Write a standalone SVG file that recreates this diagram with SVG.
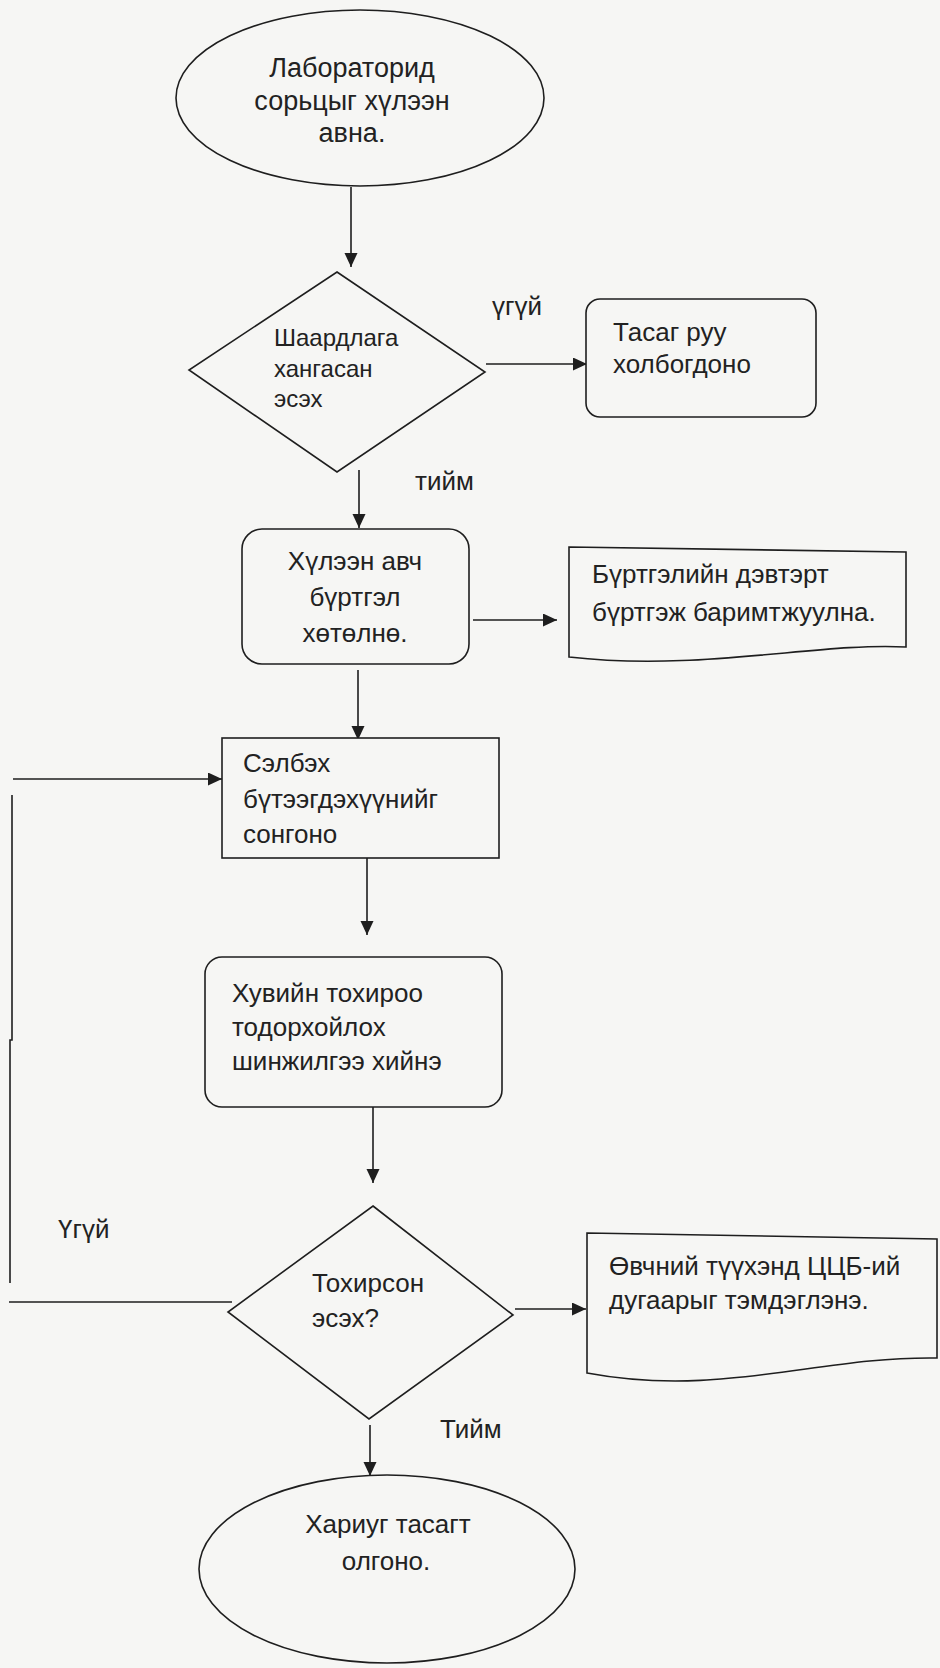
<svg xmlns="http://www.w3.org/2000/svg" width="940" height="1668" viewBox="0 0 940 1668">
<defs>
<style>
.s{fill:none;stroke:#1e1e1e;stroke-width:1.6}
.n{fill:#f6f6f4;stroke:#1e1e1e;stroke-width:1.6}
.t{font-family:"Liberation Sans",Arial,sans-serif;font-size:26px;fill:#222}
.c{text-anchor:middle}
.d{font-size:24px}
.e{font-size:27px}
</style>
<marker id="ah" markerUnits="userSpaceOnUse" markerWidth="16" markerHeight="14" refX="14" refY="6.5" orient="auto">
<path d="M0,0 L14,6.5 L0,13 Z" fill="#1e1e1e"/>
</marker>
</defs>
<rect width="940" height="1668" fill="#f6f6f4"/>
<g id="connectors">
<line class="s" x1="351" y1="187" x2="351" y2="267" marker-end="url(#ah)"/>
<line class="s" x1="486" y1="364" x2="587" y2="364" marker-end="url(#ah)"/>
<line class="s" x1="359" y1="470" x2="359" y2="528" marker-end="url(#ah)"/>
<line class="s" x1="473" y1="620" x2="557" y2="620" marker-end="url(#ah)"/>
<line class="s" x1="358" y1="670" x2="358" y2="740" marker-end="url(#ah)"/>
<line class="s" x1="367" y1="858" x2="367" y2="935" marker-end="url(#ah)"/>
<line class="s" x1="373" y1="1107" x2="373" y2="1183" marker-end="url(#ah)"/>
<line class="s" x1="515" y1="1309" x2="586" y2="1309" marker-end="url(#ah)"/>
<line class="s" x1="370" y1="1425" x2="370" y2="1476" marker-end="url(#ah)"/>
<line class="s" x1="9" y1="1302" x2="232" y2="1302"/>
<path class="s" d="M12,795 V1040 H10 V1283"/>
<line class="s" x1="13" y1="779" x2="222" y2="779" marker-end="url(#ah)"/>
</g>
<g id="labels">
<text class="t" x="492" y="315">үгүй</text>
<text class="t" x="415" y="490">тийм</text>
<text class="t" x="58" y="1238">Үгүй</text>
<text class="t" x="440" y="1438">Тийм</text>
</g>
<g id="start">
<ellipse class="n" cx="360" cy="98" rx="184" ry="88"/>
<text class="t e c" x="352" y="77">Лабораторид</text>
<text class="t e c" x="352" y="110">сорьцыг хүлээн</text>
<text class="t e c" x="352" y="142">авна.</text>
</g>
<g id="check1">
<polygon class="n" points="337,272 485,372 337,472 189,370"/>
<text class="t d" x="274" y="346">Шаардлага</text>
<text class="t d" x="274" y="377">хангасан</text>
<text class="t d" x="274" y="407">эсэх</text>
</g>
<g id="dept">
<rect class="n" x="586" y="299" width="230" height="118" rx="14"/>
<text class="t" x="613" y="341">Тасаг руу</text>
<text class="t" x="613" y="373">холбогдоно</text>
</g>
<g id="receive">
<rect class="n" x="242" y="529" width="227" height="135" rx="20"/>
<text class="t c" x="355" y="570">Хүлээн авч</text>
<text class="t c" x="355" y="606">бүртгэл</text>
<text class="t c" x="355" y="642">хөтөлнө.</text>
</g>
<g id="doc1">
<path class="n" d="M569,547 L906,552 L906,647 C820,642 700,672 569,657 Z"/>
<text class="t" x="592" y="583">Бүртгэлийн дэвтэрт</text>
<text class="t" x="592" y="621">бүртгэж баримтжуулна.</text>
</g>
<g id="select">
<rect class="n" x="222" y="738" width="277" height="120"/>
<text class="t" x="243" y="772">Сэлбэх</text>
<text class="t" x="243" y="808">бүтээгдэхүүнийг</text>
<text class="t" x="243" y="843">сонгоно</text>
</g>
<g id="test">
<rect class="n" x="205" y="957" width="297" height="150" rx="17"/>
<text class="t" x="232" y="1002">Хувийн тохироо</text>
<text class="t" x="232" y="1036">тодорхойлох</text>
<text class="t" x="232" y="1070">шинжилгээ хийнэ</text>
</g>
<g id="check2">
<polygon class="n" points="373,1206 513,1315 369,1419 228,1312"/>
<text class="t" x="312" y="1292">Тохирсон</text>
<text class="t" x="312" y="1327">эсэх?</text>
</g>
<g id="doc2">
<path class="n" d="M587,1233 L937,1239 L937,1358 C820,1356 720,1398 587,1373 Z"/>
<text class="t" x="609" y="1275">Өвчний түүхэнд ЦЦБ-ий</text>
<text class="t" x="609" y="1309">дугаарыг тэмдэглэнэ.</text>
</g>
<g id="end">
<ellipse class="n" cx="387" cy="1569" rx="188" ry="94"/>
<text class="t c" x="388" y="1533">Хариуг тасагт</text>
<text class="t c" x="386" y="1570">олгоно.</text>
</g>
</svg>
